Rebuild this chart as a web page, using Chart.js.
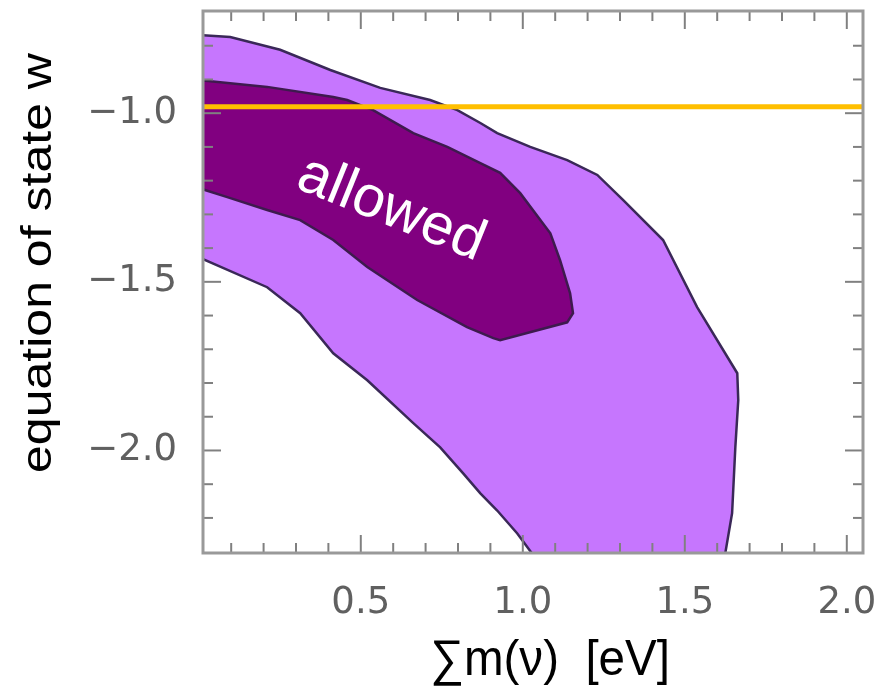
<!DOCTYPE html>
<html><head><meta charset="utf-8">
<script src="https://cdn.jsdelivr.net/npm/chart.js@4.4.0/dist/chart.umd.min.js"></script>
<style>html,body{margin:0;padding:0;background:#fff;}#wrap{width:881px;height:687px;}</style>
</head><body><div id="wrap"><canvas id="c" width="881" height="687"></canvas></div>
<script>
const xAxisTitle = '\u2211m(\u03bd)  [eV]';
const yAxisTitle = 'equation of state w';
const regionLabel = 'allowed';
const regionLabelPos = [0.594, -1.285];

const xTickValues = [0.5, 1.0, 1.5, 2.0];
const xTickLabels = ['0.5', '1.0', '1.5', '2.0'];
const yTickValues = [-2.0, -1.5, -1.0];
const yTickLabels = ['\u22122.0', '\u22121.5', '\u22121.0'];
const xRange = [0.013, 2.05];
const yRange = [-2.304, -0.697];

// outer (light) allowed region boundary
const outerX = [0.0, 0.097, 0.251, 0.406, 0.560, 0.714, 0.798, 0.869, 0.921, 1.023, 1.137, 1.230, 1.310, 1.433, 1.538, 1.662, 1.665, 1.656, 1.646, 1.624,
                1.032, 0.983, 0.921, 0.869, 0.816, 0.745, 0.662, 0.520, 0.415, 0.313, 0.211, 0.0, 0.0];
const outerY = [-0.768, -0.774, -0.812, -0.872, -0.925, -0.961, -0.991, -1.029, -1.059, -1.100, -1.139, -1.183, -1.258, -1.376, -1.575, -1.771, -1.851, -1.990, -2.186, -2.310,
                -2.310, -2.246, -2.178, -2.127, -2.068, -1.991, -1.919, -1.792, -1.712, -1.593, -1.516, -1.427, -0.768];

// inner (dark) allowed region boundary
const innerX = [0.0, 0.211, 0.415, 0.458, 0.538, 0.662, 0.767, 0.869, 0.930, 0.992, 1.085, 1.115, 1.146, 1.155, 1.137, 0.930, 0.909,
                0.828, 0.674, 0.520, 0.415, 0.313, 0.211, 0.088, 0.0, 0.0];
const innerY = [-0.902, -0.922, -0.952, -0.961, -0.991, -1.059, -1.100, -1.148, -1.177, -1.237, -1.356, -1.436, -1.534, -1.593, -1.620, -1.673, -1.667,
                -1.634, -1.554, -1.456, -1.376, -1.317, -1.287, -1.249, -1.222, -0.902];

// horizontal reference line
const refLineX = [0.013, 2.05];
const refLineY = [-0.981, -0.981];

const pts = (xs, ys) => xs.map((x, i) => ({x: x, y: ys[i]}));

const decor = {
  id: 'decor',
  afterDatasetsDraw(chart) {
    const {ctx, chartArea: a, scales: {x, y}} = chart;
    ctx.save();
    // region label
    ctx.save();
    ctx.translate(x.getPixelForValue(regionLabelPos[0]), y.getPixelForValue(regionLabelPos[1]));
    ctx.rotate(22 * Math.PI / 180);
    ctx.fillStyle = '#ffffff';
    ctx.font = '58px "Liberation Sans", Arial, sans-serif';
    ctx.textAlign = 'center';
    ctx.textBaseline = 'middle';
    ctx.fillText(regionLabel, 0, 0);
    ctx.restore();
    // inward ticks on all four sides
    ctx.strokeStyle = '#808080';
    ctx.lineWidth = 2;
    const seg = (x1, y1, x2, y2) => { ctx.beginPath(); ctx.moveTo(x1, y1); ctx.lineTo(x2, y2); ctx.stroke(); };
    for (let i = 1; i <= 20; i++) {
      const px = x.getPixelForValue(i / 10);
      if (px < a.left + 2 || px > a.right - 2) continue;
      const L = (i % 5 === 0) ? 18 : 10;
      seg(px, a.bottom, px, a.bottom - L);
      seg(px, a.top, px, a.top + L);
    }
    for (let i = -23; i <= -7; i++) {
      const py = y.getPixelForValue(i / 10);
      if (py < a.top + 2 || py > a.bottom - 2) continue;
      const L = (i % 5 === 0) ? 18 : 10;
      seg(a.left, py, a.left + L, py);
      seg(a.right, py, a.right - L, py);
    }
    // frame
    ctx.strokeStyle = '#999999';
    ctx.lineWidth = 3;
    ctx.strokeRect(a.left, a.top, a.right - a.left, a.bottom - a.top);
    ctx.restore();
  },
  afterDraw(chart) {
    const ctx = chart.ctx;
    ctx.save();
    ctx.fillStyle = '#000000';
    // y title, stretched along its length
    ctx.save();
    ctx.font = '42px "Liberation Sans", Arial, sans-serif';
    let w = ctx.measureText(yAxisTitle).width;
    ctx.translate(51, 263);
    ctx.rotate(-Math.PI / 2);
    ctx.scale(420 / w, 1);
    ctx.textAlign = 'center';
    ctx.textBaseline = 'alphabetic';
    ctx.fillText(yAxisTitle, 0, 0);
    ctx.restore();
    // x title
    ctx.save();
    ctx.font = '50px "Liberation Sans", Arial, sans-serif';
    w = ctx.measureText(xAxisTitle).width;
    ctx.translate(550, 675);
    ctx.scale(240 / w, 1);
    ctx.textAlign = 'center';
    ctx.textBaseline = 'alphabetic';
    ctx.fillText(xAxisTitle, 0, 0);
    ctx.restore();
    ctx.restore();
  }
};

new Chart(document.getElementById('c'), {
  type: 'scatter',
  data: {
    datasets: [
      {data: pts(outerX, outerY), showLine: true, fill: 'shape', backgroundColor: '#c676fe', borderColor: '#3a2858', borderWidth: 2.5, pointRadius: 0, tension: 0, order: 3, clip: 0},
      {data: pts(innerX, innerY), showLine: true, fill: 'shape', backgroundColor: '#810080', borderColor: '#3e1a4e', borderWidth: 2.5, pointRadius: 0, tension: 0, order: 2, clip: 0},
      {data: pts(refLineX, refLineY), showLine: true, fill: false, borderColor: '#ffbf00', borderWidth: 5, pointRadius: 0, order: 1, clip: 0}
    ]
  },
  options: {
    responsive: false,
    animation: false,
    devicePixelRatio: 1,
    layout: {padding: {left: 0, top: 11, right: 18, bottom: 0}},
    plugins: {legend: {display: false}, tooltip: {enabled: false}},
    scales: {
      x: {
        type: 'linear', position: 'bottom', min: xRange[0], max: xRange[1],
        grid: {display: false}, border: {display: false},
        afterBuildTicks: (s) => { s.ticks = xTickValues.map(v => ({value: v})); },
        afterFit: (s) => { s.height = 134; s.paddingLeft = 0; s.paddingRight = 0; },
        ticks: {
          autoSkip: false, maxRotation: 0, padding: 20, color: '#606060',
          font: {family: '"DejaVu Sans", sans-serif', size: 37},
          callback: (v) => xTickLabels[xTickValues.indexOf(v)]
        }
      },
      y: {
        type: 'linear', position: 'left', min: yRange[0], max: yRange[1],
        grid: {display: false}, border: {display: false},
        afterBuildTicks: (s) => { s.ticks = yTickValues.map(v => ({value: v})); },
        afterFit: (s) => { s.width = 203; s.paddingTop = 0; s.paddingBottom = 0; },
        ticks: {
          autoSkip: false, padding: 18, color: '#606060',
          font: {family: '"DejaVu Sans", sans-serif', size: 37},
          callback: (v) => yTickLabels[yTickValues.indexOf(v)]
        }
      }
    }
  },
  plugins: [decor]
});
</script>
</body></html>
